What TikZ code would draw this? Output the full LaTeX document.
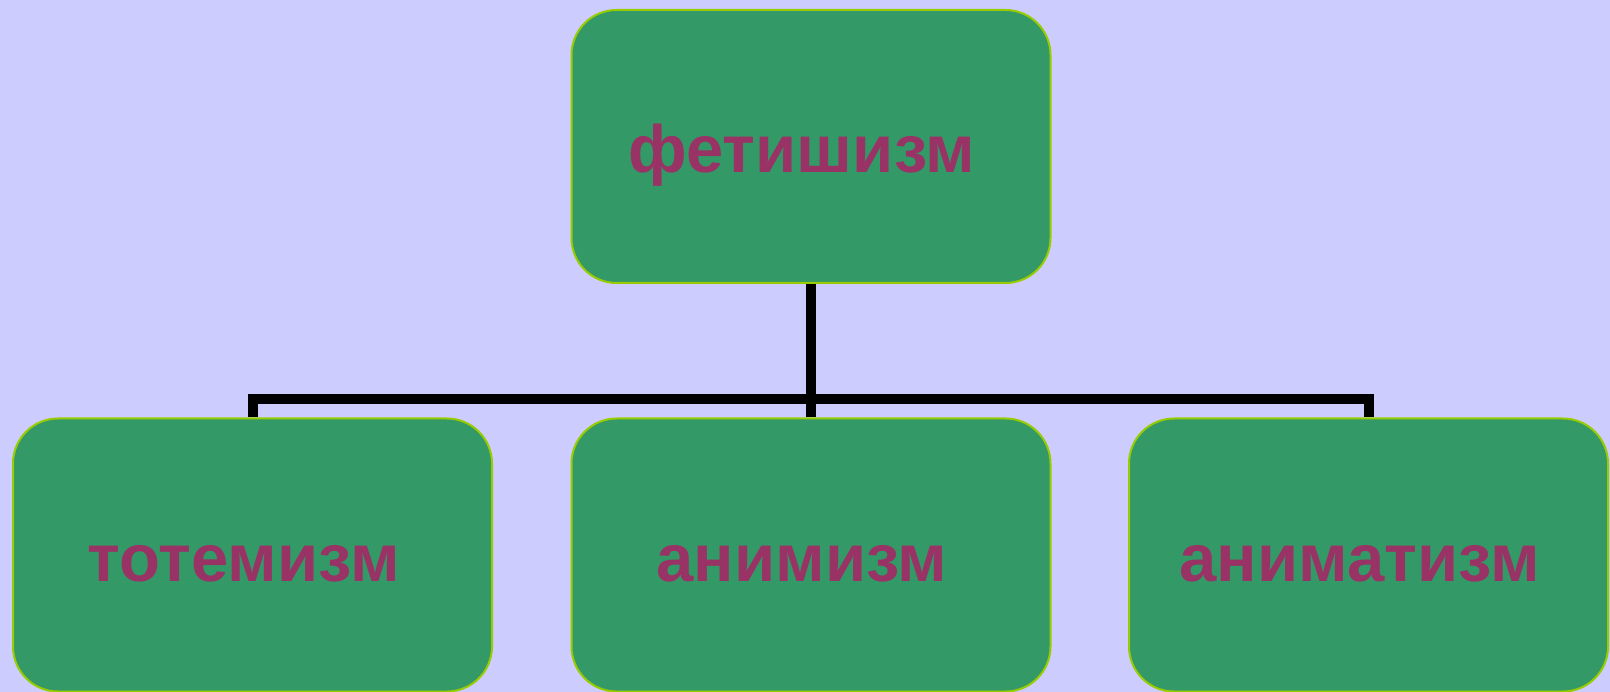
\documentclass[tikz,border=0pt]{standalone}
\usepackage{fontspec}
\setmainfont{Liberation Sans}
\usetikzlibrary{positioning}
\definecolor{bgblue}{HTML}{CCCCFF}
\definecolor{boxgreen}{HTML}{339966}
\definecolor{boxline}{HTML}{99CC00}
\definecolor{textplum}{HTML}{993366}

\begin{document}
\begin{tikzpicture}[x=1pt,y=1pt]
\tikzstyle{every node}+=[inner sep=0pt]
\tikzstyle{cult}=[draw=boxline, line width=2pt, fill=boxgreen, rounded corners=45pt, minimum width=479pt, minimum height=273pt, text=textplum, font=\fontsize{67}{70}\selectfont\bfseries, text height=52pt, text depth=0pt, execute at end node=\hspace*{18pt}]
\tikzstyle{link}=[black, line width=10pt]
\fill [bgblue] (0,0) rectangle (1610,-692);
\useasboundingbox (0,0) rectangle (1610,-692);
\node [cult] (fetish) at (811,-146.5) {фетишизм};
\node [cult] (totem) at (252.5,-555) {тотемизм};
\node [cult] (animism) at (811,-555) {анимизм};
\node [cult] (animatism) at (1368.5,-555) {аниматизм};
\coordinate (bar) at (0,-399);
\draw [link] (fetish.south) -- (animism.north);
\draw [link] (totem.north) -- (totem.north |- bar) -- (animatism.north |- bar) -- (animatism.north);
\end{tikzpicture}
\end{document}
